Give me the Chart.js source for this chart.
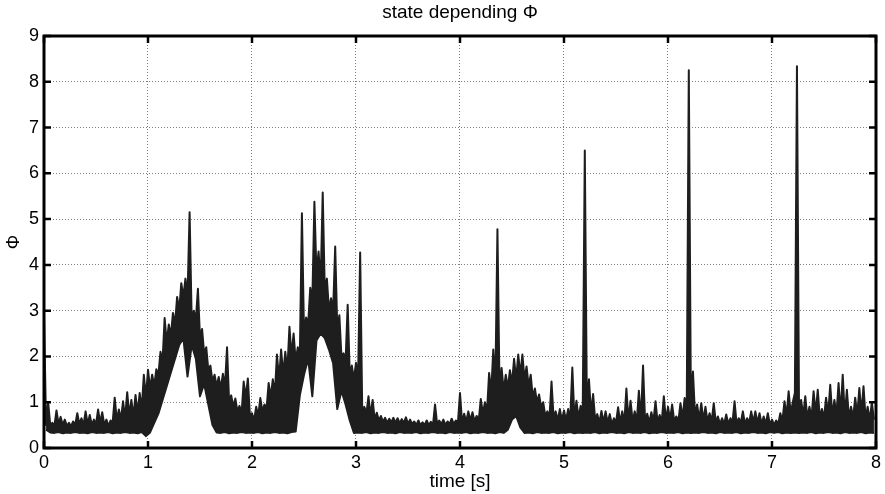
<!DOCTYPE html>
<html><head><meta charset="utf-8">
<script src="https://cdn.jsdelivr.net/npm/chart.js@4.4.1/dist/chart.umd.min.js"></script>
<style>html,body{margin:0;padding:0;background:#fff}canvas{display:block}</style>
</head><body>
<canvas id="c" width="885" height="494"></canvas>
<script>
const TITLE = 'state depending \u03A6';
const X_LABEL = 'time [s]';
const Y_LABEL = '\u03A6';
const X_TICKS = [0, 1, 2, 3, 4, 5, 6, 7, 8];
const Y_TICKS = [0, 1, 2, 3, 4, 5, 6, 7, 8, 9];
const SAMPLE_STEP = 0.04; // seconds between successive peak samples

// upper peaks of the densely sampled signal, one per 0.04 s (rows = 1 s)
const phiHigh = [
  2.9, 1.0, 0.55, 0.82, 0.68, 0.62, 0.55, 0.58, 0.76, 0.65, 0.8, 0.72, 0.62, 0.84, 0.78, 0.62, 0.6, 1.1, 0.84, 1.02, 1.22, 1.05, 1.16, 1.2, 1.6,
  1.71, 1.6, 1.72, 2.1, 2.84, 2.7, 2.95, 3.3, 3.6, 3.7, 5.15, 3.0, 3.48, 2.6, 2.2, 1.8, 1.6, 1.55, 1.62, 2.2, 1.15, 1.08, 0.92, 1.45, 1.52,
  0.76, 0.9, 1.09, 0.95, 1.42, 1.5, 2.04, 2.15, 2.1, 2.65, 2.5, 2.2, 5.13, 2.85, 3.5, 5.38, 4.29, 5.58, 3.7, 3.27, 4.4, 2.9, 2.07, 3.13, 1.8,
  1.86, 4.27, 0.9, 1.13, 1.05, 0.77, 0.7, 0.66, 0.64, 0.66, 0.65, 0.63, 0.67, 0.62, 0.58, 0.6, 0.56, 0.6, 0.57, 0.95, 0.6, 0.62, 0.58, 0.64, 0.6,
  1.2, 0.75, 0.8, 0.78, 0.7, 1.07, 1.0, 1.64, 2.15, 4.78, 1.75, 1.6, 1.7, 1.95, 2.04, 2.04, 1.78, 1.6, 1.3, 1.17, 1.0, 0.8, 1.45, 0.8, 0.85,
  0.82, 0.85, 1.76, 1.03, 0.92, 6.5, 1.5, 1.18, 0.74, 0.81, 0.8, 0.74, 0.65, 0.89, 0.8, 1.3, 1.03, 0.8, 1.25, 1.8, 0.75, 0.78, 1.02, 0.72, 1.13,
  0.9, 0.95, 0.69, 0.98, 1.09, 8.25, 1.67, 0.95, 0.98, 0.9, 0.76, 0.98, 0.69, 0.65, 0.73, 0.65, 1.02, 0.65, 0.8, 0.65, 0.8, 0.8, 0.76, 0.69, 0.76,
  0.62, 0.6, 0.76, 1.02, 1.24, 1.0, 8.34, 1.05, 1.13, 0.9, 1.24, 1.27, 0.85, 1.1, 1.38, 1.05, 1.42, 1.6, 1.27, 0.9, 1.1, 1.31, 1.35, 0.9, 1.0
];

// dips of the upper edge between peaks, each 0.02 s after the matching peak
const phiDip = [
  0.5, 0.5, 0.48, 0.52, 0.5, 0.48, 0.47, 0.5, 0.52, 0.5, 0.52, 0.5, 0.52, 0.55, 0.5, 0.48, 0.55, 0.6, 0.62, 0.65, 0.7, 0.68, 0.75, 0.85, 1.1,
  1.3, 1.35, 1.6, 1.9, 2.3, 2.45, 2.7, 3.0, 3.3, 3.3, 2.8, 2.8, 2.4, 2.05, 1.7, 1.45, 1.35, 1.3, 1.35, 1.0, 0.9, 0.8, 0.75, 1.1, 0.7,
  0.6, 0.7, 0.8, 0.85, 1.1, 1.2, 1.5, 1.6, 1.7, 2.0, 1.9, 2.0, 2.5, 2.7, 3.2, 3.8, 3.6, 3.4, 3.0, 3.0, 2.6, 2.0, 1.9, 1.6, 1.5,
  1.5, 0.8, 0.75, 0.7, 0.62, 0.6, 0.57, 0.55, 0.56, 0.55, 0.54, 0.55, 0.53, 0.52, 0.5, 0.5, 0.5, 0.5, 0.5, 0.52, 0.52, 0.5, 0.52, 0.52, 0.55,
  0.55, 0.58, 0.6, 0.58, 0.6, 0.75, 0.8, 1.2, 1.4, 1.3, 1.25, 1.3, 1.4, 1.5, 1.6, 1.5, 1.35, 1.1, 1.0, 0.9, 0.7, 0.65, 0.65, 0.6, 0.6,
  0.6, 0.62, 0.65, 0.65, 0.75, 0.9, 0.75, 0.6, 0.55, 0.56, 0.55, 0.52, 0.55, 0.56, 0.55, 0.6, 0.58, 0.58, 0.6, 0.56, 0.55, 0.58, 0.56, 0.58, 0.6,
  0.62, 0.58, 0.58, 0.65, 0.8, 1.0, 0.7, 0.62, 0.6, 0.58, 0.58, 0.55, 0.52, 0.52, 0.52, 0.55, 0.52, 0.55, 0.52, 0.55, 0.56, 0.54, 0.52, 0.52, 0.5,
  0.5, 0.52, 0.58, 0.7, 0.75, 1.2, 0.8, 0.7, 0.65, 0.65, 0.75, 0.65, 0.65, 0.72, 0.7, 0.72, 0.75, 0.7, 0.65, 0.65, 0.72, 0.75, 0.65, 0.6, 0.62
];

// lower edge (troughs) of the signal, each 0.02 s after the matching peak
const phiLow = [
  0.4, 0.34, 0.33, 0.35, 0.32, 0.34, 0.33, 0.35, 0.33, 0.34, 0.32, 0.35, 0.33, 0.34, 0.33, 0.35, 0.32, 0.34, 0.33, 0.35, 0.33, 0.34, 0.32, 0.35, 0.26,
  0.34, 0.55, 0.75, 1.05, 1.35, 1.65, 1.95, 2.25, 2.4, 1.56, 2.25, 1.95, 1.13, 1.4, 0.95, 0.5, 0.34, 0.33, 0.35, 0.32, 0.34, 0.33, 0.35, 0.33, 0.34,
  0.33, 0.35, 0.32, 0.34, 0.33, 0.35, 0.33, 0.34, 0.32, 0.35, 0.36, 1.15, 1.6, 1.95, 1.13, 2.35, 2.5, 2.4, 2.15, 1.85, 0.85, 1.25, 0.95, 0.6, 0.33,
  0.34, 0.33, 0.35, 0.32, 0.34, 0.33, 0.35, 0.33, 0.34, 0.32, 0.35, 0.33, 0.34, 0.33, 0.35, 0.32, 0.34, 0.33, 0.35, 0.33, 0.34, 0.32, 0.35, 0.33, 0.34,
  0.33, 0.35, 0.32, 0.34, 0.33, 0.35, 0.33, 0.34, 0.32, 0.35, 0.33, 0.4, 0.62, 0.7, 0.45, 0.33, 0.34, 0.32, 0.35, 0.33, 0.34, 0.33, 0.35, 0.32, 0.34,
  0.33, 0.35, 0.32, 0.34, 0.33, 0.34, 0.33, 0.35, 0.32, 0.34, 0.33, 0.35, 0.33, 0.34, 0.32, 0.35, 0.33, 0.34, 0.33, 0.35, 0.32, 0.34, 0.33, 0.35, 0.33,
  0.34, 0.33, 0.35, 0.32, 0.34, 0.33, 0.34, 0.33, 0.35, 0.33, 0.34, 0.32, 0.35, 0.33, 0.34, 0.33, 0.35, 0.32, 0.34, 0.33, 0.35, 0.33, 0.34, 0.32, 0.35,
  0.33, 0.35, 0.32, 0.34, 0.33, 0.34, 0.33, 0.34, 0.33, 0.35, 0.32, 0.34, 0.33, 0.35, 0.33, 0.34, 0.32, 0.35, 0.33, 0.34, 0.33, 0.35, 0.32, 0.34, 0.33
];

// upper edge: peaks and dips interleaved; lower edge: troughs
const upperPts = [];
phiHigh.forEach((v, k) => {
  upperPts.push({ x: k * SAMPLE_STEP, y: v });
  upperPts.push({ x: k * SAMPLE_STEP + SAMPLE_STEP / 2, y: phiDip[k] });
});
const lowerPts = phiLow.map((v, k) => ({ x: k * SAMPLE_STEP + SAMPLE_STEP / 2, y: v }));

const FONT = 'Liberation Sans, Arial, Helvetica, sans-serif';
const INK = '#1e1e1e';

const framePlugin = {
  id: 'frame',
  afterDatasetsDraw(chart) {
    const { ctx, chartArea: a, scales: { x, y } } = chart;
    ctx.save();
    ctx.strokeStyle = '#000';
    ctx.lineWidth = 2.5;
    ctx.lineCap = 'butt';
    ctx.beginPath();
    X_TICKS.forEach(v => {
      const px = x.getPixelForValue(v);
      ctx.moveTo(px, a.bottom); ctx.lineTo(px, a.bottom - 7);
      ctx.moveTo(px, a.top); ctx.lineTo(px, a.top + 7);
    });
    Y_TICKS.forEach(v => {
      const py = y.getPixelForValue(v);
      ctx.moveTo(a.left, py); ctx.lineTo(a.left + 7, py);
      ctx.moveTo(a.right, py); ctx.lineTo(a.right - 7, py);
    });
    ctx.stroke();
    ctx.lineWidth = 3;
    ctx.strokeRect(a.left, a.top, a.right - a.left, a.bottom - a.top);
    ctx.restore();
  }
};

const gridOpts = { color: 'rgba(0,0,0,0.5)', lineWidth: 1, drawTicks: false };
const borderOpts = { display: false, dash: [1, 2] };

new Chart(document.getElementById('c'), {
  type: 'line',
  data: {
    datasets: [
      { label: 'lower', data: lowerPts, borderColor: INK, borderWidth: 2, borderJoinStyle: 'round', pointRadius: 0, tension: 0, fill: false },
      { label: 'upper', data: upperPts, borderColor: INK, backgroundColor: INK, borderWidth: 2, borderJoinStyle: 'round', pointRadius: 0, tension: 0, fill: '-1' }
    ]
  },
  options: {
    responsive: false,
    animation: false,
    events: [],
    layout: { padding: { left: 0, right: 7, top: 0, bottom: 0 } },
    plugins: {
      legend: { display: false },
      tooltip: { enabled: false },
      title: {
        display: true,
        fullSize: false,
        text: TITLE,
        color: '#000',
        font: { family: FONT, size: 19, weight: 'normal' },
        padding: { top: 1, bottom: 12.2 }
      }
    },
    scales: {
      x: {
        type: 'linear',
        min: 0, max: 8,
        afterFit(s) { s.height = 46; },
        afterBuildTicks(s) { s.ticks = X_TICKS.map(v => ({ value: v })); },
        border: borderOpts,
        grid: gridOpts,
        ticks: { color: '#000', font: { family: FONT, size: 18 }, padding: 4, maxRotation: 0 },
        title: { display: true, text: X_LABEL, color: '#000', font: { family: FONT, size: 19 }, padding: { top: 0, bottom: 1 } }
      },
      y: {
        type: 'linear',
        min: 0, max: 9,
        afterFit(s) { s.width = 44; },
        afterBuildTicks(s) { s.ticks = Y_TICKS.map(v => ({ value: v })); },
        border: borderOpts,
        grid: gridOpts,
        ticks: { color: '#000', font: { family: FONT, size: 18 }, padding: 5 },
        title: { display: true, text: Y_LABEL, color: '#000', font: { family: FONT, size: 18 }, padding: { top: 3, bottom: 0 } }
      }
    }
  },
  plugins: [framePlugin]
});
</script>
</body></html>
